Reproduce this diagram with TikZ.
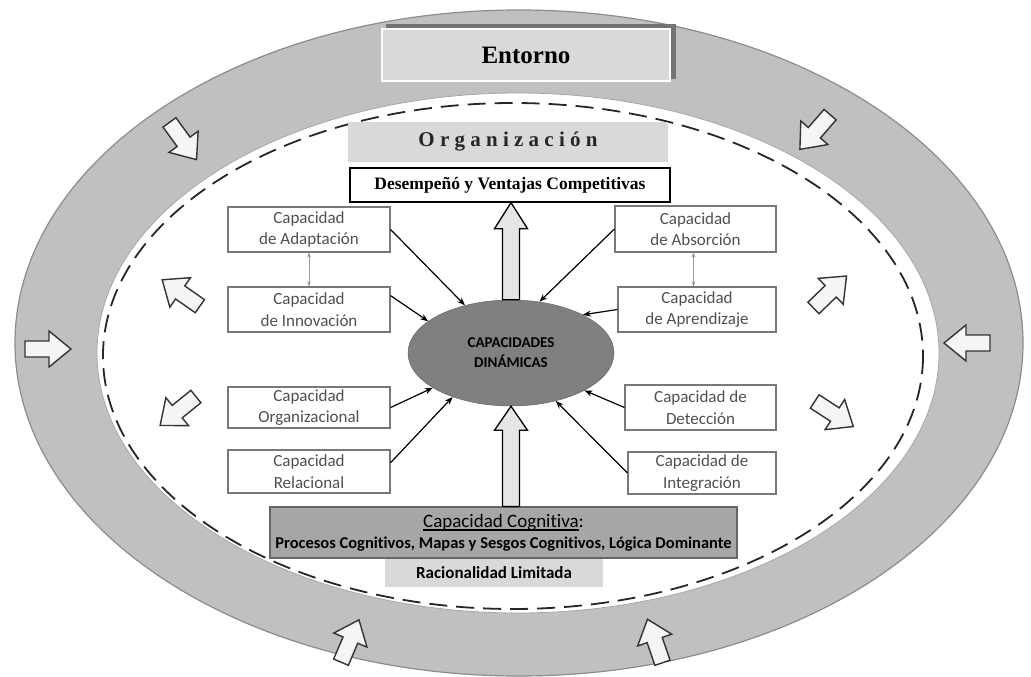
\documentclass[tikz,border=0pt]{standalone}
\usepackage{fontspec}
\setmainfont{Liberation Serif}
\newfontfamily\calfont[Ligatures=NoCommon]{Carlito}
\usetikzlibrary{calc,arrows.meta,shapes.geometric}
\definecolor{ring}{RGB}{192,192,194}
\definecolor{lgray}{RGB}{217,217,217}
\definecolor{mgray}{RGB}{166,166,166}
\definecolor{dgray}{RGB}{128,128,128}
\definecolor{boxline}{RGB}{120,120,120}
\definecolor{boxtext}{RGB}{80,80,80}
\newcommand\thickul[1]{\setbox0\hbox{#1}\rlap{\rule[-3.5pt]{\wd0}{1.2pt}}\box0}
\tikzset{
  barrow/.pic={\draw[line width=1.4pt,draw=black!80,fill=black!4,line join=miter]
     (-23,-8) -- (1,-8) -- (1,-18) -- (23,0) -- (1,18) -- (1,8) -- (-23,8) -- cycle;},
  capbox/.style={draw=boxline,line width=1.2pt,fill=white,text=boxtext,align=center,
     inner sep=0pt,minimum width=162pt,minimum height=45pt,
     font=\calfont\fontsize{17}{21.5}\selectfont},
  conn/.style={line width=1.2pt,-{Stealth[length=8pt,width=6pt]}},
  dbl/.style={line width=0.9pt,draw=black!40,{Stealth[length=5pt,width=4pt]}-{Stealth[length=5pt,width=4pt]}},
  bigup/.style={draw=black,line width=1.3pt,fill=black!10,line join=miter}
}
\begin{document}
\begin{tikzpicture}[x=1pt,y=-1pt]
\useasboundingbox (0,0) rectangle (1031,677);
% rings
\fill[ring,draw=black!45,line width=1.2pt] (519,343) ellipse [x radius=504,y radius=333];
\fill[white,draw=black!35,line width=0.8pt] (518,353) ellipse [x radius=421,y radius=260];
\draw[black!85,line width=1.8pt,dash pattern=on 18pt off 9pt] (513,356) ellipse [x radius=410,y radius=253];
% Entorno
\fill[black!55] (386,24) rectangle (676,79);
\node[fill=lgray,draw=white,line width=2.5pt,minimum width=288pt,minimum height=52pt,inner sep=0pt,
  font=\bfseries\fontsize{25}{30}\selectfont] (ent) at (526,55) {Entorno};
% Organizacion
\node[fill=lgray,minimum width=320pt,minimum height=40pt,inner sep=0pt,
  font=\bfseries\fontsize{21}{25}\selectfont,text=black!85] (org) at (508,142) {O r g a n i z a c i ó n};
% Desempeño
\node[fill=white,draw=black,line width=1.3pt,minimum width=320pt,minimum height=34pt,inner sep=0pt,
  font=\bfseries\fontsize{17.5}{20}\selectfont] (des) at (510,185) {Desempeñó y Ventajas Competitivas};
% central ellipse
\node[ellipse,fill=dgray,draw=dgray!80!black,line width=0.5pt,minimum width=206pt,minimum height=106pt,inner sep=0pt,
  align=center,font=\calfont\bfseries\fontsize{15}{20}\selectfont] (cd) at (511,353) {CAPACIDADES\\DINÁMICAS};
% capacity boxes
\node[capbox] (adapt) at (309,229.5) {Capacidad\\de Adaptación};
\node[capbox] (innov) at (309,309.5) {Capacidad\\de Innovación};
\node[capbox,minimum height=41pt] (orgz) at (309,407.5) {Capacidad\\Organizacional};
\node[capbox,minimum height=43pt] (relac) at (309,471.5) {Capacidad\\Relacional};
\node[capbox,minimum width=161pt,minimum height=46pt] (absor) at (695.5,229) {Capacidad\\de Absorción};
\node[capbox,minimum width=158pt] (aprend) at (697,309.5) {Capacidad\\de Aprendizaje};
\node[capbox,minimum width=151pt] (detec) at (700.5,407.5) {Capacidad de\\Detección};
\node[capbox,minimum width=148pt,minimum height=42pt] (integ) at (702,473) {Capacidad de\\Integración};
% cognitive boxes
\node[fill=lgray,minimum width=218pt,minimum height=30pt,inner sep=0pt,anchor=north,
  font=\calfont\bfseries\fontsize{17}{20}\selectfont] (rac) at (494,557) {Racionalidad Limitada};
\node[fill=mgray,draw=black!60,line width=1.2pt,minimum width=467pt,minimum height=51pt,inner sep=0pt,
  align=center] (cog) at (503.5,532.5)
  {{\calfont\fontsize{19}{22}\selectfont\thickul{Capacidad Cognitiva}:}\\[5pt]
   {\calfont\bfseries\fontsize{16.5}{18}\selectfont Procesos Cognitivos, Mapas y Sesgos Cognitivos, Lógica Dominante}};
% big up arrows
\draw[bigup] ($(cd.north)+(-8.5,0)$) -- ($(des.south -| cd.north)+(-8.5,26)$) -- ($(des.south -| cd.north)+(-16.5,26)$)
  -- (des.south -| cd.north) -- ($(des.south -| cd.north)+(16.5,26)$) -- ($(des.south -| cd.north)+(8.5,26)$)
  -- ($(cd.north)+(8.5,0)$) -- cycle;
\draw[bigup] ($(cog.north -| cd.south)+(-8.5,0)$) -- ($(cd.south)+(-8.5,24)$) -- ($(cd.south)+(-16.5,24)$)
  -- (cd.south) -- ($(cd.south)+(16.5,24)$) -- ($(cd.south)+(8.5,24)$)
  -- ($(cog.north -| cd.south)+(8.5,0)$) -- cycle;
% connectors
\draw[conn] (adapt.east) -- (cd.134);
\draw[conn] ($(innov.north east)!0.2!(innov.south east)$) -- (cd.159);
\draw[conn] (orgz.east) -- (cd.204);
\draw[conn] ($(relac.north east)!0.3!(relac.south east)$) -- (cd.217);
\draw[conn] (absor.west) -- (cd.61);
\draw[conn] (aprend.west) -- (cd.28);
\draw[conn] (detec.west) -- (cd.333);
\draw[conn] (integ.west) -- (cd.313);
\draw[dbl] (adapt.south) -- (adapt.south |- innov.north);
\draw[dbl] ($(absor.south)+(-2,0)$) -- ($(absor.south |- aprend.north)+(-2,0)$);
% block arrows in ring
\pic[rotate=-54] at (183,141) {barrow};
\pic[rotate=229] at (815,132) {barrow};
\pic at (48,349) {barrow};
\pic[rotate=180] at (967,343) {barrow};
\pic[rotate=67] at (350,641) {barrow};
\pic[rotate=109] at (655,641) {barrow};
% inner block arrows
\pic[rotate=145] at (181,293) {barrow};
\pic[rotate=219] at (178,411) {barrow};
\pic[rotate=44] at (830,292) {barrow};
\pic[rotate=-33] at (834,414) {barrow};
\end{tikzpicture}
\end{document}
